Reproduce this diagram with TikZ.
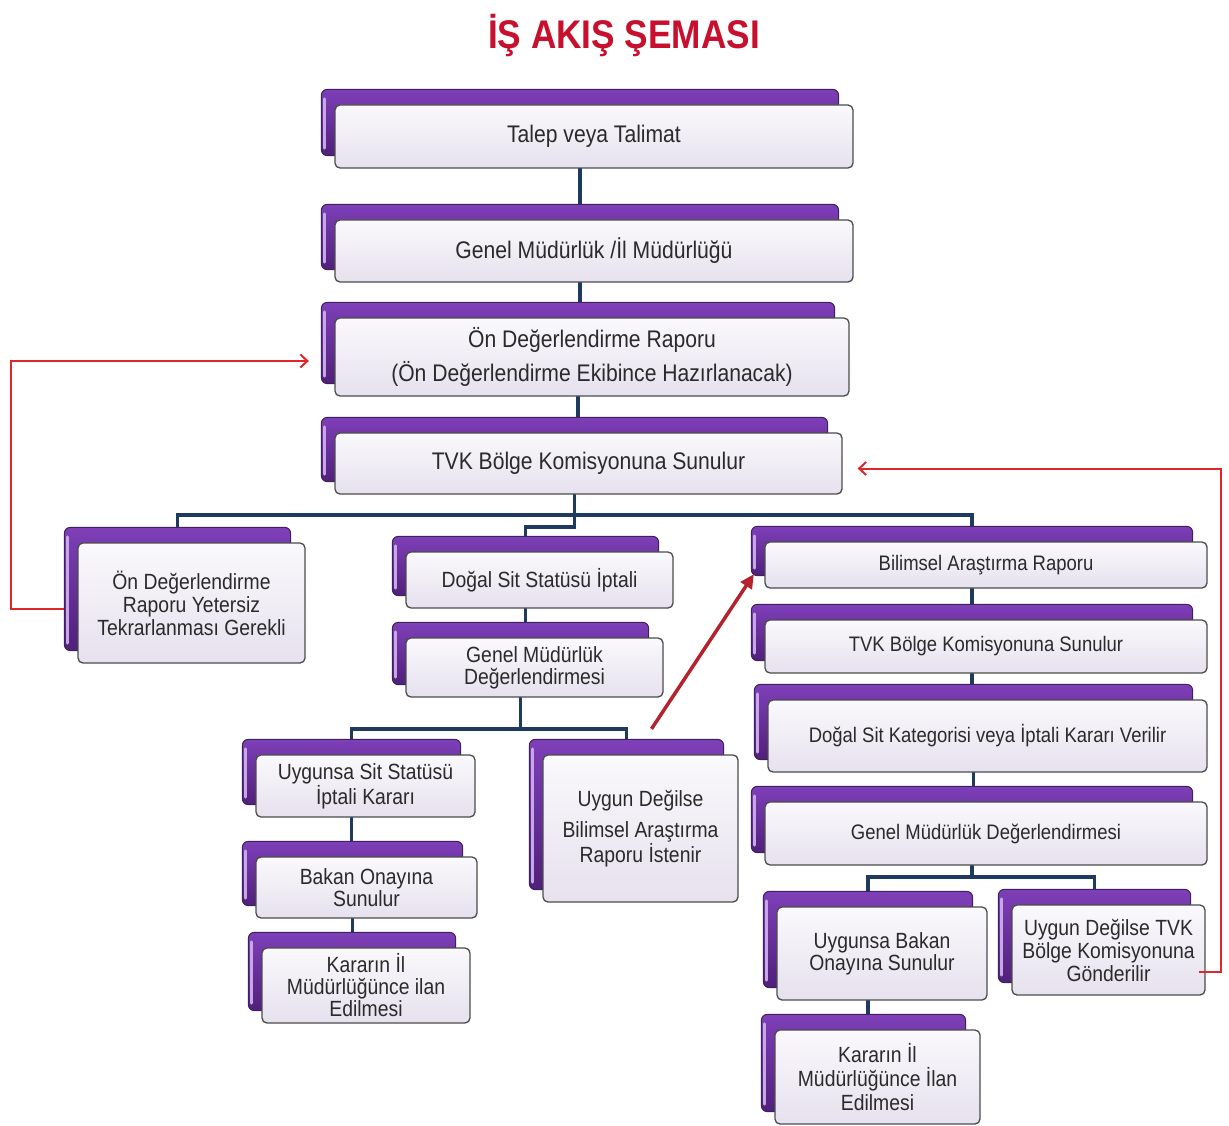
\documentclass[tikz,border=0pt]{standalone}
\usepackage{fontspec}
\setmainfont{Liberation Sans}
\newfontfamily\cond[FakeStretch=0.88]{Liberation Sans}
\usetikzlibrary{calc,fit,arrows.meta}
\pgfdeclarelayer{bgfill}\pgfdeclarelayer{connl}\pgfdeclarelayer{backl}
\pgfsetlayers{bgfill,connl,backl,main}
\definecolor{navy}{HTML}{1F3A5F}
\definecolor{pur1}{HTML}{7E3FB8}
\definecolor{pur2}{HTML}{50207A}
\definecolor{purdraw}{HTML}{3E2158}
\definecolor{purhi}{HTML}{C9A6EA}
\definecolor{cardtop}{HTML}{FAF9FC}
\definecolor{cardbot}{HTML}{E6E1EE}
\definecolor{txt}{HTML}{2A2A2A}
\definecolor{redA}{HTML}{E0262A}
\definecolor{redB}{HTML}{B3232F}
\definecolor{titler}{HTML}{C8102E}
\tikzset{
  frontcard/.style={rectangle, rounded corners=5pt, draw=black!70, line width=1.3pt,
    top color=cardtop, bottom color=cardbot, inner sep=0pt, align=center, text=txt,
    font=\cond\fontsize{22}{22}\selectfont},
  bigtext/.style={font=\cond\fontsize{24}{24}\selectfont},
  rtext/.style={font=\cond\fontsize{21}{21}\selectfont},
  backcard/.style={rectangle, rounded corners=6pt, draw=purdraw, line width=1pt,
    top color=pur1, bottom color=pur2, inner sep=0pt},
  hilite/.style={draw=purhi, line width=3pt, line cap=round},
  conn/.style={draw=navy, line width=3.4pt},
  redthin/.style={draw=redA, line width=2pt, -{Straight Barb[length=7pt,width=13pt,line width=2pt]}},
  redthick/.style={draw=redB, line width=3.5pt, -{Triangle[length=14pt,width=13pt]}},
  titlestyle/.style={text=titler, font=\cond\bfseries\fontsize{40}{40}\selectfont}
}
\newcommand\pbox[7][]{%
  \node[frontcard,#1, minimum width={(#5-#3)*1pt}, minimum height={(#6-#4)*1pt}]
     (#2) at ({(#3+#5)/2},{(#4+#6)/2}) {#7};
  \begin{pgfonlayer}{backl}
    \node[backcard, fit={($(#2.north west)+(-13,-15)$) ($(#2.south east)+(-15,-13)$)}] (#2b) {};
    \draw[hilite] ($(#2b.north west)+(4,10)$) -- ($(#2b.south west)+(4,-8)$);
  \end{pgfonlayer}}

\begin{document}
\begin{tikzpicture}[x=1pt,y=-1pt]
\begin{pgfonlayer}{bgfill}
  \fill[white] (0,0) rectangle (1229,1126);
\end{pgfonlayer}
\useasboundingbox (0,0) rectangle (1229,1126);

\node[titlestyle, anchor=base] (title) at (624,49) {İŞ AKIŞ ŞEMASI};

% main column
\pbox[bigtext]{t1}{335}{105}{853}{168}{Talep veya Talimat}
\pbox[bigtext]{t2}{335}{220}{853}{282}{Genel Müdürlük /İl Müdürlüğü}
\pbox[bigtext]{t3}{335}{318}{849}{396}{Ön Değerlendirme Raporu\\[8pt](Ön Değerlendirme Ekibince Hazırlanacak)}
\pbox[bigtext]{t4}{335}{433}{842}{494}{TVK Bölge Komisyonuna Sunulur}

% left
\pbox[font=\cond\fontsize{22}{23}\selectfont]{l1}{78}{543}{305}{663}{Ön Değerlendirme\\Raporu Yetersiz\\Tekrarlanması Gerekli}

% middle
\pbox{m1}{406}{552}{673}{608}{Doğal Sit Statüsü İptali}
\pbox{m2}{406}{638}{663}{697}{Genel Müdürlük\\Değerlendirmesi}
\pbox{m3}{256}{755}{475}{817}{Uygunsa Sit Statüsü\\İptali Kararı}
\pbox[font=\cond\fontsize{22}{23}\selectfont]{m4}{543}{755}{738}{902}{Uygun Değilse\\[8pt]Bilimsel Araştırma\\Raporu İstenir}
\pbox{m5}{256}{857}{477}{918}{Bakan Onayına\\Sunulur}
\pbox{m6}{262}{948}{470}{1023}{Kararın İl\\Müdürlüğünce ilan\\Edilmesi}

% right
\pbox[rtext]{r1}{765}{542}{1207}{588}{Bilimsel Araştırma Raporu}
\pbox[rtext]{r2}{765}{620}{1207}{673}{TVK Bölge Komisyonuna Sunulur}
\pbox[rtext]{r3}{768}{700}{1207}{772}{Doğal Sit Kategorisi veya İptali Kararı Verilir}
\pbox[rtext]{r4}{765}{802}{1207}{865}{Genel Müdürlük Değerlendirmesi}
\pbox[font=\cond\fontsize{22}{22}\selectfont]{r5}{777}{907}{987}{1000}{Uygunsa Bakan\\Onayına Sunulur}
\pbox[font=\cond\fontsize{22}{23}\selectfont]{r6}{1012}{905}{1205}{995}{Uygun Değilse TVK\\Bölge Komisyonuna\\Gönderilir}
\pbox[font=\cond\fontsize{22}{24}\selectfont]{r7}{775}{1030}{980}{1124}{Kararın İl\\Müdürlüğünce İlan\\Edilmesi}

% connectors
\begin{pgfonlayer}{connl}
  \draw[conn] (t1b.south) -- (t1b.south |- t2b.north);
  \draw[conn] (t2b.south) -- (t2b.south |- t3b.north);
  \draw[conn] (t3b.south) -- (t3b.south |- t4b.north);
  \draw[conn] (l1b.north) -- ++(0,-12) -| (r1b.north);
  \draw[conn] (t4b.south) -- ++(0,45) -| (m1b.north);
  \draw[conn] (m1b.south) -- (m1b.south |- m2b.north);
  \draw[conn] (m3b.north) -- ++(0,-10) -| (m4b.north);
  \draw[conn] (m2b.south) -- ++(0,46);
  \draw[conn] (m3b.south) -- (m3b.south |- m5b.north);
  \draw[conn] (m5b.south) -- (m5b.south |- m6b.north);
  \draw[conn] (r1b.south) -- (r1b.south |- r2b.north);
  \draw[conn] (r2b.south) -- (r2b.south |- r3b.north);
  \draw[conn] (r3b.south) -- (r3b.south |- r4b.north);
  \draw[conn] (r5b.north) -- ++(0,-14) -| (r6b.north);
  \draw[conn] (r4b.south) -- ++(0,26);
  \draw[conn] (r5b.south) -- (r5b.south |- r7b.north);
\end{pgfonlayer}

% red arrows
\draw[redthin] ([yshift=-20pt]l1b.west) -- ++(-53,0) |- ([xshift=-12pt,yshift=-18pt]t3b.west);
\draw[redthin] ([xshift=-7pt,yshift=-22pt]r6.east) -- ++(22,0) |- ([xshift=15pt,yshift=-5pt]t4.east);
\draw[redthick] ([xshift=25pt,yshift=10pt]m4b.north) -- ([xshift=3pt,yshift=2pt]r1b.south west);
\end{tikzpicture}
\end{document}
